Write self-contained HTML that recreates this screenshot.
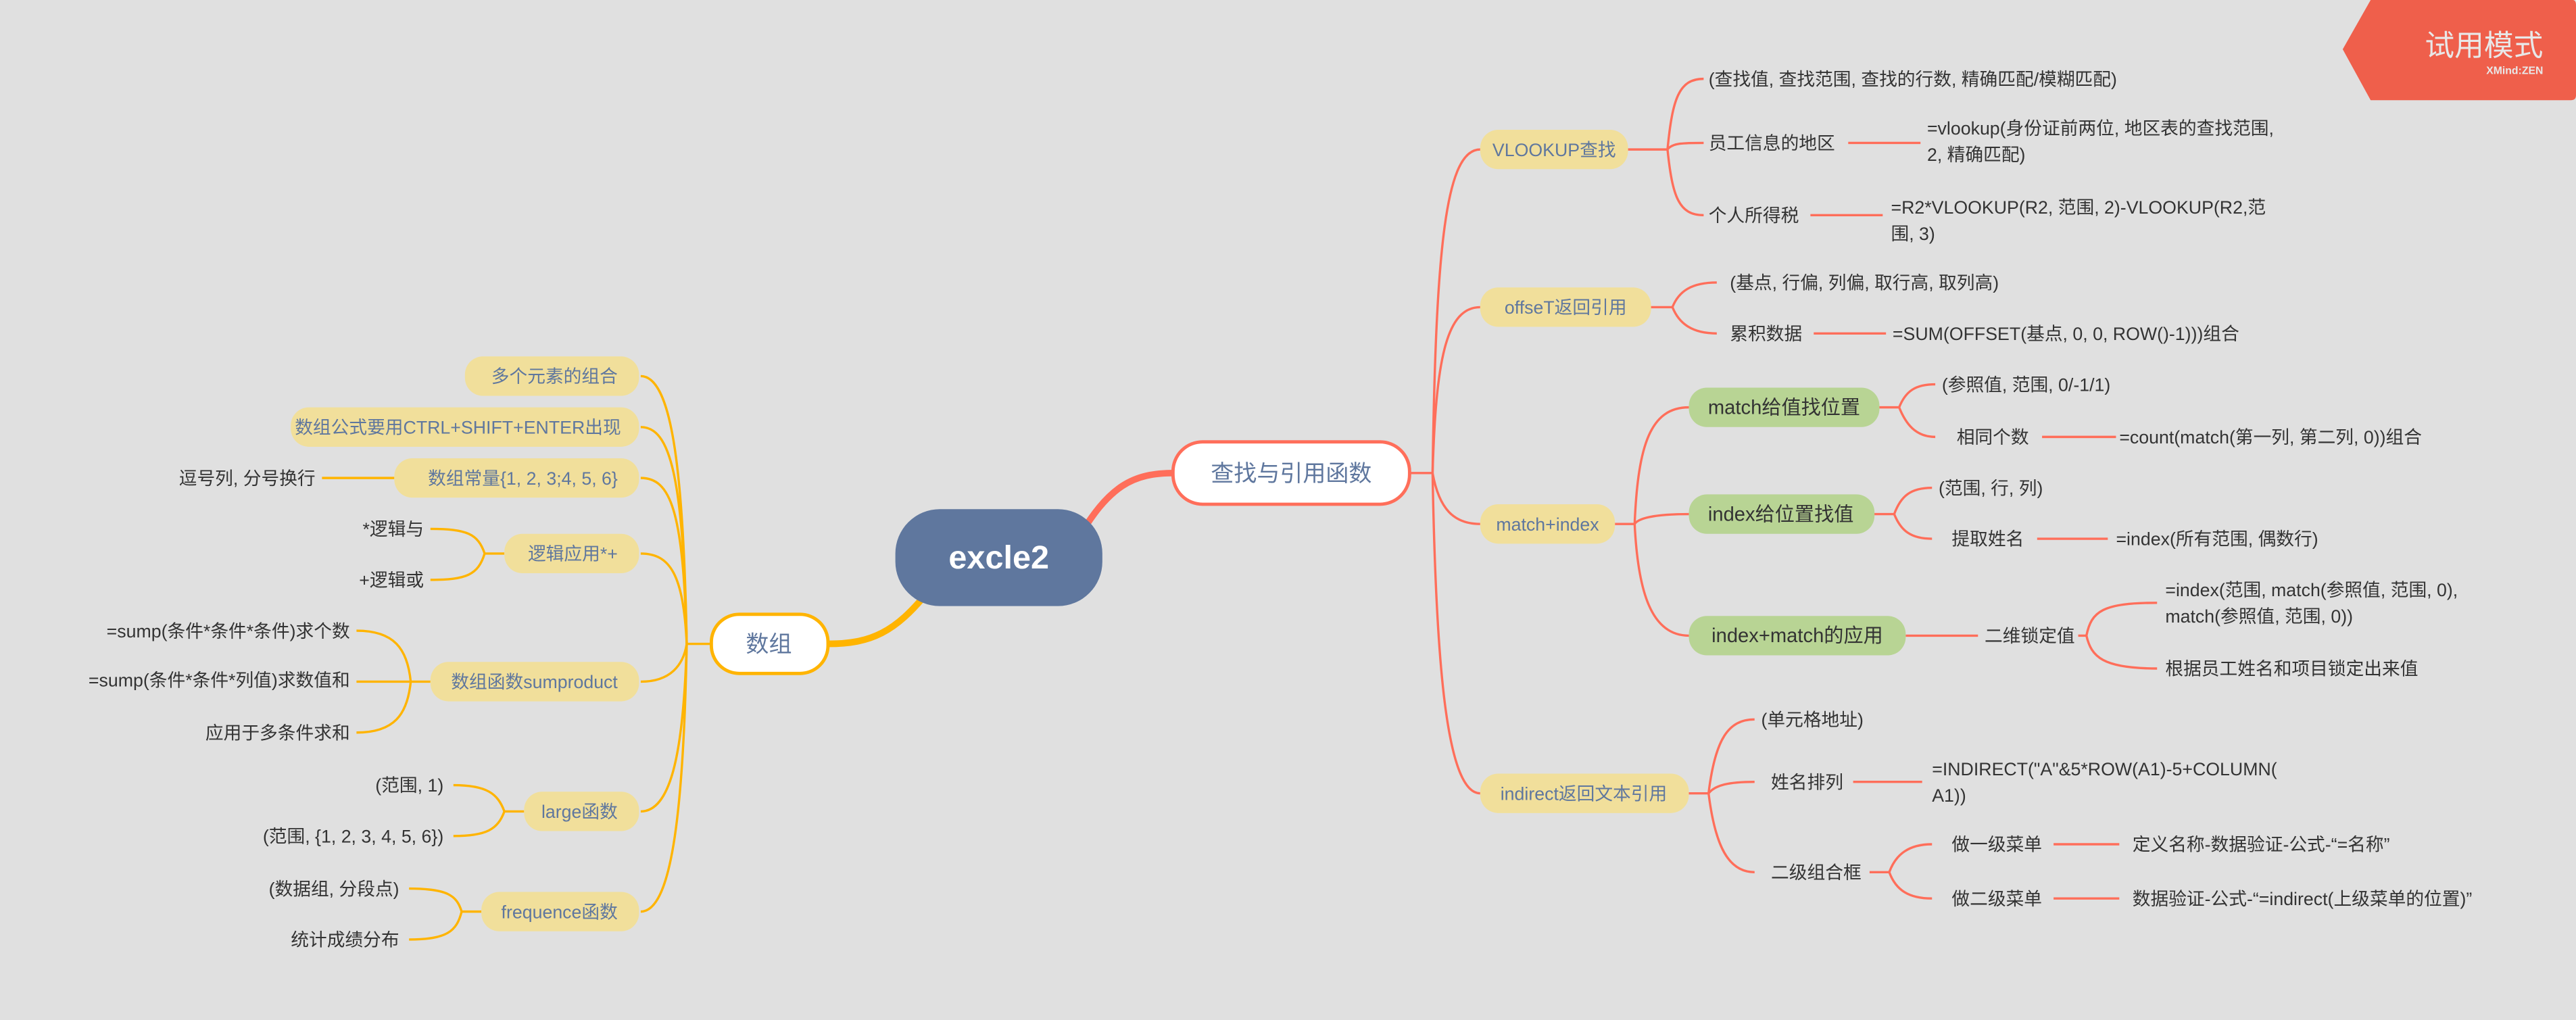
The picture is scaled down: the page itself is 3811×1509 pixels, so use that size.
<!DOCTYPE html>
<html><head><meta charset="utf-8"><style>
html,body{margin:0;padding:0;background:#e0e0e0;}
svg{display:block;}
text{font-family:"Liberation Sans","Noto Sans CJK SC",sans-serif;}
.t{font-size:11px;fill:#333;}
.n{font-size:11px;fill:#5f779e;}
.g{font-size:12px;fill:#333;}
.r{fill:none;stroke:#ff6e5a;stroke-width:1.4;}
.o{fill:none;stroke:#ffb400;stroke-width:1.4;}
</style></head><body>
<svg width="3811" height="1509" viewBox="0 0 1568 621" preserveAspectRatio="none" xmlns="http://www.w3.org/2000/svg">
<rect width="1568" height="621" fill="#e0e0e0"/>
<path d="M1443 0 H1566 Q1568 0 1568 3 V58 Q1568 61 1565 61 H1443 L1426 30 Z" fill="#ef5f4b"/>
<text x="1548" y="34" font-size="18" fill="#e8e8e8" text-anchor="end">试用模式</text>
<text x="1548" y="45" font-size="6.5" fill="#e8e8e8" text-anchor="end" font-weight="bold">XMind:ZEN</text>

<path d="M655 330 C675 295 690 288 715 288" fill="none" stroke="#ff6e5a" stroke-width="4"/>
<path d="M565 360 C545 385 530 392 504 392" fill="none" stroke="#ffb400" stroke-width="4"/>

<g class="r">
<path d="M858 288 H872"/>
<path d="M872 288 C874 150 880 91 901 91"/>
<path d="M872 288 C874 220 880 187 901 187"/>
<path d="M872 288 C876 310 885 319 901 319"/>
<path d="M872 288 C874 400 880 483 901 483"/>
<path d="M990 91 H1015"/>
<path d="M1015 91 C1018 60 1022 48 1037 48"/>
<path d="M1015 91 C1018 87 1025 87 1037 87"/>
<path d="M1015 91 C1018 120 1022 131 1037 131"/>
<path d="M1125 87 H1169"/><path d="M1102 131 H1146"/>
<path d="M1004 187 H1018"/>
<path d="M1018 187 C1022 177 1030 172 1045 172"/>
<path d="M1018 187 C1022 197 1030 203 1045 203"/>
<path d="M1104 203 H1148"/>
<path d="M983 319 H995"/>
<path d="M995 319 C997 270 1005 248 1028 248"/>
<path d="M995 319 C997 316 1005 313 1028 313"/>
<path d="M995 319 C997 360 1005 387 1028 387"/>
<path d="M1143 248 H1156"/>
<path d="M1156 248 C1160 238 1166 234 1178 234"/>
<path d="M1156 248 C1160 258 1166 266 1178 266"/>
<path d="M1243 266 H1288"/>
<path d="M1140 313 H1153"/>
<path d="M1153 313 C1157 302 1163 297 1176 297"/>
<path d="M1153 313 C1157 323 1163 328 1176 328"/>
<path d="M1240 328 H1283"/>
<path d="M1160 387 H1204"/>
<path d="M1265 387 H1270"/>
<path d="M1270 387 C1273 372 1280 367 1313 367"/>
<path d="M1270 387 C1273 400 1280 407 1313 407"/>
<path d="M1027 483 H1040"/>
<path d="M1040 483 C1044 450 1052 438 1068 438"/>
<path d="M1040 483 C1044 478 1052 476 1068 476"/>
<path d="M1040 483 C1044 515 1052 531 1068 531"/>
<path d="M1128 476 H1170"/>
<path d="M1138 531 H1150"/>
<path d="M1150 531 C1154 520 1162 514 1176 514"/>
<path d="M1150 531 C1154 542 1162 547 1176 547"/>
<path d="M1250 514 H1290"/><path d="M1250 547 H1290"/>
</g>

<g class="o">
<path d="M432 392 H418"/>
<path d="M418 392 C416 280 408 229 390 229"/>
<path d="M418 392 C416 290 408 260 390 260"/>
<path d="M418 392 C416 310 408 291 390 291"/>
<path d="M418 392 C416 350 408 337 390 337"/>
<path d="M418 392 C416 405 408 415 390 415"/>
<path d="M418 392 C416 460 408 494 390 494"/>
<path d="M418 392 C416 500 408 555 390 555"/>
<path d="M240 291 H196"/>
<path d="M307 337 H295"/>
<path d="M295 337 C291 325 284 322 262 322"/>
<path d="M295 337 C291 350 284 353 262 353"/>
<path d="M262 415 H250"/>
<path d="M250 415 C248 395 240 384 217 384"/>
<path d="M250 415 H217"/>
<path d="M250 415 C248 435 240 446 217 446"/>
<path d="M319 494 H307"/>
<path d="M307 494 C303 483 296 478 276 478"/>
<path d="M307 494 C303 505 296 509 276 509"/>
<path d="M293 555 H281"/>
<path d="M281 555 C278 545 272 541 249 541"/>
<path d="M281 555 C278 567 272 572 249 572"/>
</g>

<rect x="545" y="310" width="126" height="59" rx="27" fill="#5f779e"/>
<text x="608" y="346" font-size="20" fill="#fff" text-anchor="middle" font-weight="bold">excle2</text>

<rect x="714" y="269" width="144" height="38" rx="18" fill="#fff" stroke="#ff6e5a" stroke-width="2"/>
<text x="786" y="293" font-size="14" fill="#5f779e" text-anchor="middle">查找与引用函数</text>
<rect x="433" y="374" width="71" height="36" rx="17" fill="#fff" stroke="#ffb400" stroke-width="2"/>
<text x="468" y="397" font-size="14" fill="#5f779e" text-anchor="middle">数组</text>

<g fill="#f1df9b">
<rect x="901" y="79" width="90" height="24" rx="11"/>
<rect x="901" y="175" width="104" height="24" rx="11"/>
<rect x="901" y="307" width="82" height="24" rx="11"/>
<rect x="901" y="471" width="127" height="24" rx="11"/>
</g>
<g class="n" text-anchor="middle">
<text x="946" y="95">VLOOKUP查找</text>
<text x="953" y="191">offseT返回引用</text>
<text x="942" y="323">match+index</text>
<text x="964" y="487">indirect返回文本引用</text>
</g>
<g fill="#b8d494">
<rect x="1028" y="236" width="116" height="24" rx="11"/>
<rect x="1028" y="301" width="113" height="24" rx="11"/>
<rect x="1028" y="375" width="132" height="24" rx="11"/>
</g>
<g class="g" text-anchor="middle">
<text x="1086" y="252">match给值找位置</text>
<text x="1084" y="317">index给位置找值</text>
<text x="1094" y="391">index+match的应用</text>
</g>

<g class="t">
<text x="1040" y="52">(查找值, 查找范围, 查找的行数, 精确匹配/模糊匹配)</text>
<text x="1040" y="91">员工信息的地区</text>
<text x="1173" y="82">=vlookup(身份证前两位, 地区表的查找范围,</text>
<text x="1173" y="98">2, 精确匹配)</text>
<text x="1040" y="135">个人所得税</text>
<text x="1151" y="130">=R2*VLOOKUP(R2, 范围, 2)-VLOOKUP(R2,范</text>
<text x="1151" y="146">围, 3)</text>
<text x="1053" y="176">(基点, 行偏, 列偏, 取行高, 取列高)</text>
<text x="1053" y="207">累积数据</text>
<text x="1152" y="207">=SUM(OFFSET(基点, 0, 0, ROW()-1)))组合</text>
<text x="1182" y="238">(参照值, 范围, 0/-1/1)</text>
<text x="1191" y="270">相同个数</text>
<text x="1290" y="270">=count(match(第一列, 第二列, 0))组合</text>
<text x="1180" y="301">(范围, 行, 列)</text>
<text x="1188" y="332">提取姓名</text>
<text x="1288" y="332">=index(所有范围, 偶数行)</text>
<text x="1208" y="391">二维锁定值</text>
<text x="1318" y="363">=index(范围, match(参照值, 范围, 0),</text>
<text x="1318" y="379">match(参照值, 范围, 0))</text>
<text x="1318" y="411">根据员工姓名和项目锁定出来值</text>
<text x="1072" y="442">(单元格地址)</text>
<text x="1078" y="480">姓名排列</text>
<text x="1176" y="472">=INDIRECT("A"&amp;5*ROW(A1)-5+COLUMN(</text>
<text x="1176" y="488">A1))</text>
<text x="1078" y="535">二级组合框</text>
<text x="1188" y="518">做一级菜单</text>
<text x="1298" y="518">定义名称-数据验证-公式-“=名称”</text>
<text x="1188" y="551">做二级菜单</text>
<text x="1298" y="551">数据验证-公式-“=indirect(上级菜单的位置)”</text>
</g>

<g fill="#f1df9b">
<rect x="283" y="217" width="106" height="24" rx="11"/>
<rect x="177" y="248" width="212" height="24" rx="11"/>
<rect x="240" y="279" width="149" height="24" rx="11"/>
<rect x="307" y="325" width="82" height="24" rx="11"/>
<rect x="262" y="403" width="127" height="24" rx="11"/>
<rect x="319" y="482" width="70" height="24" rx="11"/>
<rect x="293" y="543" width="96" height="24" rx="11"/>
</g>
<g class="n" text-anchor="end">
<text x="376" y="233">多个元素的组合</text>
<text x="378" y="264">数组公式要用CTRL+SHIFT+ENTER出现</text>
<text x="376" y="295">数组常量{1, 2, 3;4, 5, 6}</text>
<text x="376" y="341">逻辑应用*+</text>
<text x="376" y="419">数组函数sumproduct</text>
<text x="376" y="498">large函数</text>
<text x="376" y="559">frequence函数</text>
</g>
<g class="t" text-anchor="end">
<text x="192" y="295">逗号列, 分号换行</text>
<text x="258" y="326">*逻辑与</text>
<text x="258" y="357">+逻辑或</text>
<text x="213" y="388">=sump(条件*条件*条件)求个数</text>
<text x="213" y="418">=sump(条件*条件*列值)求数值和</text>
<text x="213" y="450">应用于多条件求和</text>
<text x="270" y="482">(范围, 1)</text>
<text x="270" y="513">(范围, {1, 2, 3, 4, 5, 6})</text>
<text x="243" y="545">(数据组, 分段点)</text>
<text x="243" y="576">统计成绩分布</text>
</g>
</svg>
</body></html>
